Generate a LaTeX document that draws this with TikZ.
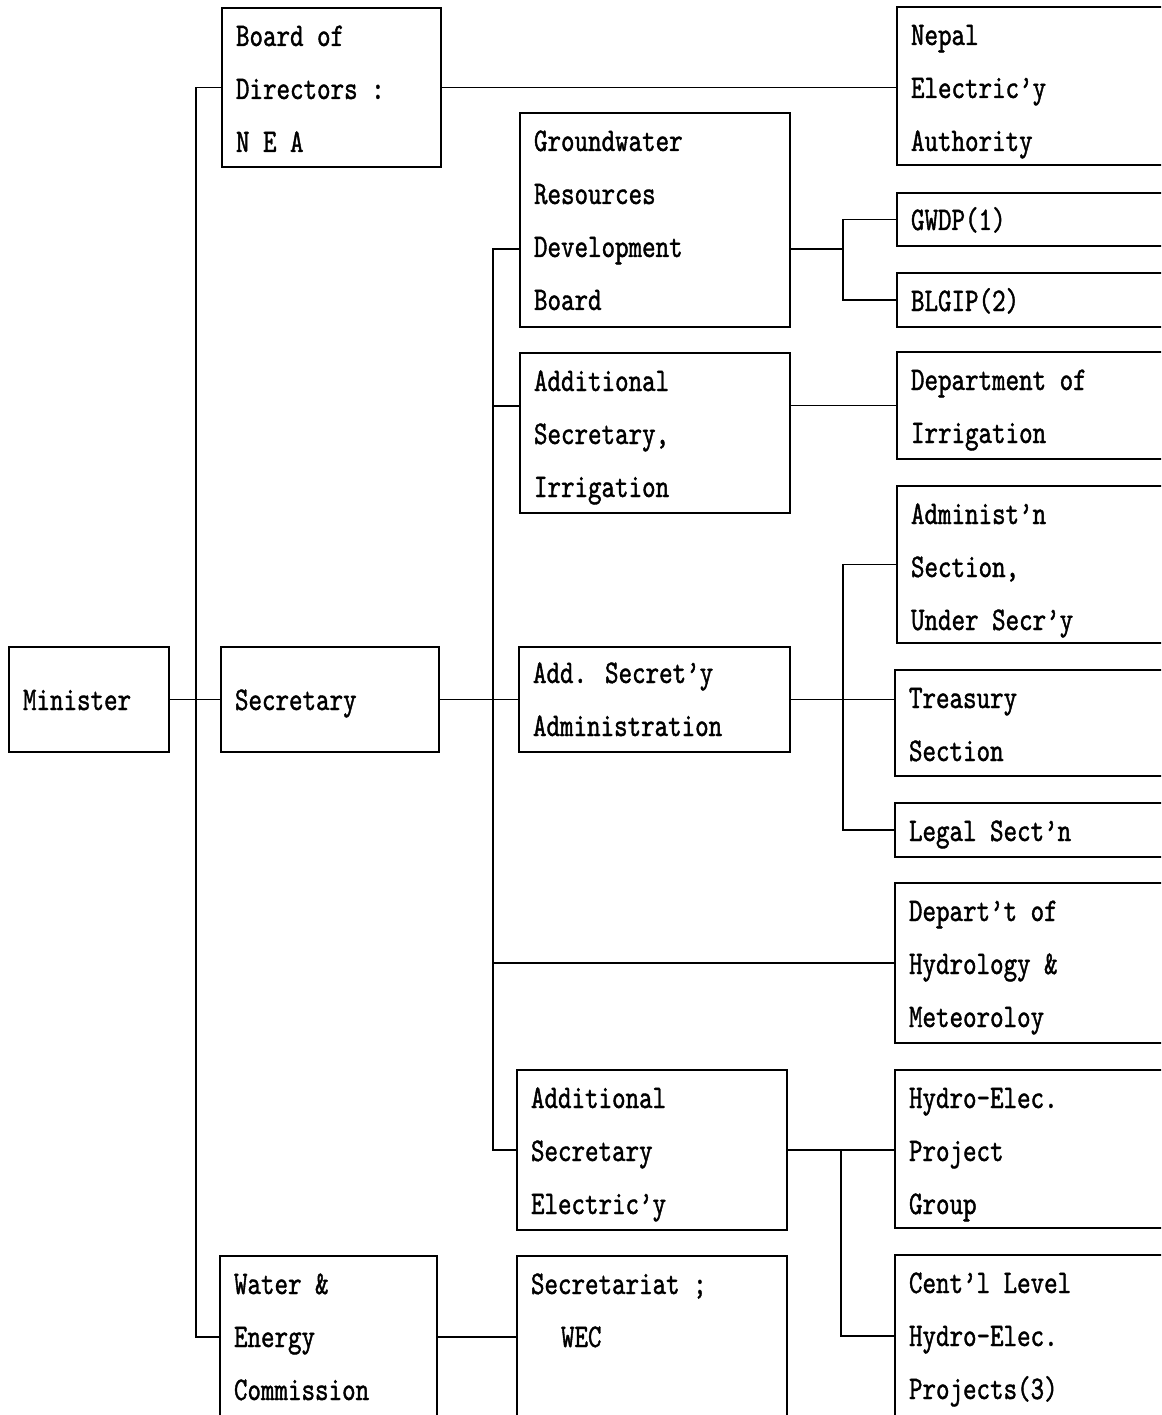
\documentclass[tikz,border=0pt]{standalone}
\usepackage{fontspec}
\newfontfamily\tw{lmmono10-regular.otf}[FakeStretch=0.78,FakeBold=1.2]
\usetikzlibrary{calc}
% one box body: width, height, first baseline below the top, lines
\newcommand\orgbox[4]{\parbox[t][#2pt][t]{#1pt}{\raggedright\leftskip=14pt\relax\rule{0pt}{#3pt}#4}}
\tikzset{
  orgunit/.style={draw, line width=1.8pt, anchor=north west, inner sep=0pt, outer sep=0pt,
    font=\tw\fontsize{33}{53}\selectfont},
  link/.style={draw, line width=1.4pt},
}
\begin{document}
\begin{tikzpicture}[x=1pt, y=-1pt]
\useasboundingbox (0,0) rectangle (1161,1415);
\clip (0,0) rectangle (1161,1415);
\fill[white] (0,0) rectangle (1161,1415);

% left column
\node[orgunit] (minister)  at (9,647)   {\orgbox{160}{105}{63}{Minister}};
\node[orgunit] (board)     at (222,8)   {\orgbox{219}{159}{38}{Board of\\Directors :\\N E A}};
\node[orgunit] (secretary) at (221,647) {\orgbox{218}{105}{63}{Secretary}};
\node[orgunit] (wec)       at (220,1256){\orgbox{217}{162}{38}{Water \&\\Energy\\Commission}};

% middle column
\node[orgunit] (gw)     at (520,113)  {\orgbox{270}{214}{38}{Groundwater\\Resources\\Development\\Board}};
\node[orgunit] (addirr) at (520,353)  {\orgbox{270}{160}{38}{Additional\\Secretary,\\Irrigation}};
\node[orgunit] (addadm) at (519,647)  {\orgbox{271}{105}{36}{Add. Secret’y\\Administration}};
\node[orgunit] (addel)  at (517,1070) {\orgbox{270}{160}{38}{Additional\\Secretary\\Electric’y}};
\node[orgunit] (sect)   at (517,1256) {\orgbox{270}{162}{38}{Secretariat ;\\\hspace*{30pt}WEC}};

% right column
\node[orgunit] (nea)   at (897,7)    {\orgbox{300}{158}{38}{Nepal\\Electric’y\\Authority}};
\node[orgunit] (gwdp)  at (897,193)  {\orgbox{300}{53}{37}{GWDP(1)}};
\node[orgunit] (blgip) at (897,273)  {\orgbox{300}{54}{38}{BLGIP(2)}};
\node[orgunit] (doi)   at (897,352)  {\orgbox{300}{107}{38}{Department of\\Irrigation}};
\node[orgunit] (admin) at (897,486)  {\orgbox{300}{157}{38}{Administ’n\\Section,\\Under Secr’y}};
\node[orgunit] (treas) at (895,670)  {\orgbox{300}{106}{38}{Treasury\\Section}};
\node[orgunit] (legal) at (895,803)  {\orgbox{300}{54}{38}{Legal Sect’n}};
\node[orgunit] (dhm)   at (895,883)  {\orgbox{300}{160}{38}{Depart’t of\\Hydrology \&\\Meteoroloy}};
\node[orgunit] (hep)   at (895,1070) {\orgbox{300}{158}{38}{Hydro-Elec.\\Project\\Group}};
\node[orgunit] (cent)  at (895,1255) {\orgbox{300}{162}{38}{Cent’l Level\\Hydro-Elec.\\Projects(3)}};

% taps on the side of tall boxes
\coordinate (gwin)   at ($(gw.north west)+(0,136)$);
\coordinate (gwout)  at ($(gw.north east)+(0,136)$);
\coordinate (irrin)  at ($(addirr.north west)+(0,53)$);
\coordinate (trunkB) at (493,0);

% minister level
\draw[link] (minister.east) -- (secretary.west);
\draw[link] (board.west) -- ++(-26,0) |- (wec.west);
\draw[link] (board.east) -- (board.east -| nea.west);
\draw[link] (wec.east) -- (sect.west);

% secretary level
\draw[link] (secretary.east) -- (addadm.west);
\draw[link] (gwin) -- (gwin -| trunkB) |- (addel.west);
\draw[link] (irrin) -- (irrin -| trunkB);
\draw[link] (dhm.west) -- (dhm.west -| trunkB);

% groundwater board
\draw[link] (gwout) -- ++(53,0);
\draw[link] (gwdp.west) -- ++(-54,0) |- (blgip.west);

% irrigation
\draw[link] (doi.west) -- (doi.west -| addirr.east);

% administration
\draw[link] (addadm.east) -- (addadm.east -| treas.west);
\draw[link] (admin.west) -- ++(-54,0) |- (legal.west);

% electricity
\draw[link] (addel.east) -- (addel.east -| hep.west);
\draw[link] ($(hep.west)+(-54,0)$) |- (cent.west);
\end{tikzpicture}
\end{document}
